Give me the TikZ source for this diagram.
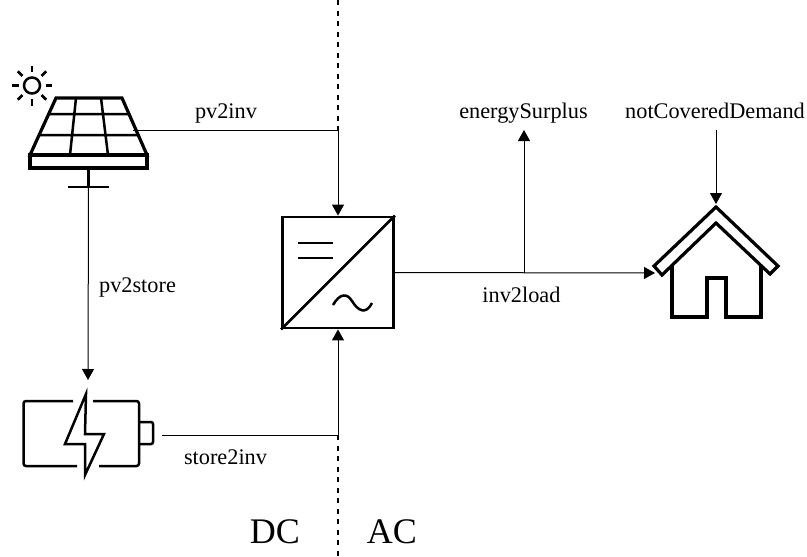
\documentclass[tikz,border=0pt]{standalone}
\usepackage{fontspec}
\setmainfont{Liberation Serif}
\usetikzlibrary{arrows.meta,calc}
\tikzset{
  icon/.style={line width=3.2pt,line join=miter},
  fine icon/.style={line width=2.5pt},
  conn/.style={line width=1pt,-{Triangle[length=11pt,width=12pt]}},
  wire/.style={line width=1pt},
  divider/.style={line width=1.3pt,dash pattern=on 5pt off 5.5pt},
  lbl/.style={font=\fontsize{22.3}{26}\selectfont,inner sep=0pt,anchor=base},
  big/.style={font=\fontsize{36}{42}\selectfont,inner sep=0pt,anchor=base}
}
\begin{document}
\begin{tikzpicture}[x=1pt,y=-1pt]
\useasboundingbox (0,0) rectangle (807,557);
% DC/AC divider
\coordinate (divtop) at (338,0);
\coordinate (divbot) at (338,557);
\coordinate (j1) at (338,130.5);
\coordinate (j2) at (338,435);
\draw[divider] (divtop) -- (j1);
\draw[divider] (j2) -- (divbot);
% inverter
\node[draw,inner sep=0pt,fill=white,minimum size=111pt,line width=2.8pt] (inv) at (338,272.5) {};
\draw[fine icon] (inv.south west) -- (inv.north east);
\draw[fine icon] (298,243) -- (333,243) (298,258) -- (333,258);
\draw[fine icon] (333,305) .. controls (340,293) and (347,293) .. (352,301) .. controls (358,311) and (366,315) .. (372,303);
% solar panel
\coordinate (pvside) at (133,130.5);
\coordinate (pvpost) at (88.5,188);
\draw[icon] (56,98) -- (122,98) -- (147,155) -- (30,155) -- cycle;
\draw[icon] (30,155) rectangle (147,168);
\draw[fine icon] (49,114) -- (128,114) (39,135) -- (137,135) (76,98) -- (70,155) (101,98) -- (108,155);
\draw[fine icon] (88.5,168) -- (88.5,187) (68,187) -- (109,187);
% sun
\draw[fine icon] (32,85.5) circle (8pt);
\foreach \a in {0,45,...,315}{\draw[fine icon] ($(32,85.5)+(\a:13.5pt)$) -- ($(32,85.5)+(\a:20pt)$);}
% battery
\coordinate (batttop) at (88,380);
\coordinate (battside) at (162,435);
\draw[fine icon,rounded corners=2.5pt] (73,401) -- (23.5,401) -- (23.5,466) -- (77,466);
\draw[fine icon,rounded corners=2.5pt] (93,401) -- (139,401) -- (139,466) -- (99,466);
\draw[fine icon,rounded corners=2pt] (139,422) -- (153,422) -- (153,444) -- (139,444);
\draw[fine icon,line join=miter] (86,394) -- (65,444) -- (85,444) -- (85,475) -- (104,434) -- (85,434) -- cycle;
% house
\coordinate (housetop) at (716,204);
\coordinate (houseleft) at (655,273);
\draw[icon] (716,207) -- (778,266) -- (770,274) -- (716,223) -- (662,275) -- (654,266) -- cycle;
\draw[icon] (672,265) -- (672,317) -- (707,317) -- (707,278) -- (726,278) -- (726,317) -- (761,317) -- (761,265);
% connectors
\draw[wire] (pvside) -- (j1);
\draw[conn] (j1) -- (inv.north);
\draw[wire] (battside) -- (j2);
\draw[conn] (j2) -- (inv.south);
\draw[conn] (pvpost) -- (batttop);
\coordinate (j3) at (524,272.5);
\coordinate (surplus) at (524,130);
\coordinate (demand) at (716,130);
\draw[conn] (inv.east) -- (houseleft);
\draw[conn] (j3) -- (surplus);
\draw[conn] (demand) -- (housetop);
% labels
\node[lbl] (l1) at (226,118) {pv2inv};
\node[lbl] (l2) at (137.5,292) {pv2store};
\node[lbl] (l3) at (521.5,302) {inv2load};
\node[lbl] (l4) at (225.5,464) {store2inv};
\node[lbl] (l5) at (523.5,118) {energySurplus};
\node[lbl] (l6) at (715,118) {notCoveredDemand};
\node[big] (dc) at (275,543) {DC};
\node[big] (ac) at (392,543) {AC};
\end{tikzpicture}
\end{document}
